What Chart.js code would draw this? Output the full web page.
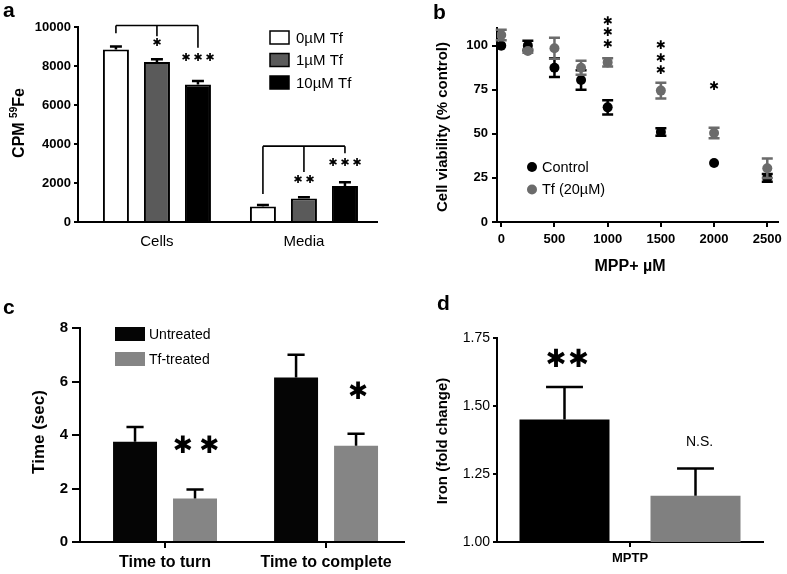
<!DOCTYPE html>
<html><head><meta charset="utf-8">
<script src="https://cdn.jsdelivr.net/npm/chart.js@4.4.1/dist/chart.umd.min.js"></script>
<style>
html,body{margin:0;padding:0;background:#fff}
#fig{position:relative;width:787px;height:574px;background:#fff;overflow:hidden}
canvas{position:absolute}
.pl{position:absolute;font:bold 21px 'Liberation Sans',Arial,sans-serif;line-height:21px;color:#000}
</style></head><body>
<div id="fig">
<canvas id="ca" width="393" height="290" style="left:0;top:0;width:393px;height:290px"></canvas>
<canvas id="cb" width="394" height="290" style="left:393px;top:0;width:394px;height:290px"></canvas>
<canvas id="cc" width="410" height="284" style="left:0;top:290px;width:410px;height:284px"></canvas>
<canvas id="cd" width="387" height="284" style="left:400px;top:290px;width:387px;height:284px"></canvas>
<div class="pl" style="left:3px;top:-1px">a</div>
<div class="pl" style="left:433px;top:1px">b</div>
<div class="pl" style="left:3px;top:296px">c</div>
<div class="pl" style="left:437px;top:292px">d</div>
</div>
<script>
// ---------- Panel a data ----------
const aCategories = ['Cells', 'Media'];
const aSeriesLabels = ['0µM Tf', '1µM Tf', '10µM Tf'];
const aTf0 = [8850, 800];
const aTf0Err = [150, 70];
const aTf1 = [8200, 1200];
const aTf1Err = [150, 70];
const aTf10 = [7050, 1850];
const aTf10Err = [180, 190];
const aYTicks = [0, 2000, 4000, 6000, 8000, 10000];

// ---------- Panel b data ----------
const bDoses = [0, 250, 500, 750, 1000, 1500, 2000, 2500];
const bControl = [100, 100, 87.5, 80.5, 65, 51, 33.5, 25];
const bControlErr = [0, 2.8, 5.3, 5.5, 4, 2.1, 0, 2.2];
const bTf = [106, 97, 98.5, 87.5, 90.5, 74.5, 50.5, 30.5];
const bTfErr = [3, 1, 6, 4, 2.3, 4.5, 3, 5.5];
const bXTicks = [0, 500, 1000, 1500, 2000, 2500];
const bYTicks = [0, 25, 50, 75, 100];
const bSeriesLabels = ['Control', 'Tf (20µM)'];

// ---------- Panel c data ----------
const cCategories = ['Time to turn', 'Time to complete'];
const cSeriesLabels = ['Untreated', 'Tf-treated'];
const cUntreated = [3.75, 6.15];
const cUntreatedErr = [0.55, 0.85];
const cTfTreated = [1.63, 3.6];
const cTfTreatedErr = [0.33, 0.45];
const cYTicks = [0, 2, 4, 6, 8];

// ---------- Panel d data ----------
const dCategories = ['MPTP'];
const dUntreated = [1.45];
const dUntreatedErr = [0.12];
const dTfTreated = [1.17];
const dTfTreatedErr = [0.10];
const dYTicks = [1.00, 1.25, 1.50, 1.75];
const dYTickLabels = ['1.00', '1.25', '1.50', '1.75'];

// ---------- common ----------
const FONT = "'Liberation Sans', Arial, Helvetica, sans-serif";
const STARFONT = "'DejaVu Sans', sans-serif";
Chart.defaults.font.family = FONT;
Chart.defaults.color = '#000';
Chart.defaults.animation = false;
Chart.defaults.responsive = false;
Chart.defaults.plugins.legend.display = false;
Chart.defaults.plugins.tooltip.enabled = false;

const toXY = arr => arr.map((y, i) => ({ x: i, y }));

const errorBars = {
  id: 'errorBars',
  afterDatasetDraw(chart, args) {
    const ds = chart.data.datasets[args.index];
    if (!ds.errors) return;
    const meta = args.meta;
    const ys = chart.scales[meta.yAxisID];
    const ctx = chart.ctx;
    ctx.save();
    ctx.strokeStyle = ds.errColor || '#000';
    ctx.lineWidth = ds.errWidth || 2;
    ctx.lineCap = 'butt';
    meta.data.forEach((el, i) => {
      const e = ds.errors[i];
      if (!e) return;
      const raw = ds.data[i];
      const v = typeof raw === 'object' ? raw.y : raw;
      const yHi = ys.getPixelForValue(v + e);
      const yLo = ds.errBoth ? ys.getPixelForValue(v - e) : el.y;
      const cw = ds.capPx || el.width * ds.capRatio;
      ctx.beginPath();
      ctx.moveTo(el.x, yLo); ctx.lineTo(el.x, yHi);
      ctx.moveTo(el.x - cw / 2, yHi); ctx.lineTo(el.x + cw / 2, yHi);
      if (ds.errBoth) { ctx.moveTo(el.x - cw / 2, yLo); ctx.lineTo(el.x + cw / 2, yLo); }
      ctx.stroke();
    });
    ctx.restore();
  }
};

function stars(ctx, n, cx, cy, spacing, font, ch, vertical) {
  ctx.save();
  ctx.fillStyle = '#000';
  ctx.font = font;
  ctx.textAlign = 'center';
  ctx.textBaseline = 'middle';
  for (let i = 0; i < n; i++) {
    const off = (i - (n - 1) / 2) * spacing;
    if (vertical) ctx.fillText(ch, cx, cy + off); else ctx.fillText(ch, cx + off, cy);
  }
  ctx.restore();
}
function bracket(ctx, yLevel, drops) {
  ctx.beginPath();
  ctx.moveTo(drops[0][0], yLevel); ctx.lineTo(drops[drops.length - 1][0], yLevel);
  drops.forEach(([x, y]) => { ctx.moveTo(x, yLevel); ctx.lineTo(x, y); });
  ctx.stroke();
}
function text(ctx, s, x, y, font, rot, align) {
  ctx.save();
  ctx.fillStyle = '#000';
  ctx.font = font;
  ctx.textAlign = align || 'center';
  ctx.textBaseline = 'middle';
  ctx.translate(x, y);
  if (rot) ctx.rotate(rot);
  ctx.fillText(s, 0, 0);
  ctx.restore();
}
function yAxis(min, max, ticks, width, font, tickLen, pad, labels) {
  return {
    type: 'linear', min, max,
    afterBuildTicks: s => { s.ticks = ticks.map(v => ({ value: v })); },
    afterFit: s => { s.width = width; },
    grid: { display: true, drawOnChartArea: false, drawTicks: true, tickLength: tickLen, color: '#000', lineWidth: 2 },
    border: { display: true, color: '#000', width: 2 },
    ticks: { font, color: '#000', padding: pad, callback: labels ? (v, i) => labels[i] : v => String(v) }
  };
}
// linear index axis placing categories at 0,1,... so group positions can be tuned by min/max
function xGroups(cats, min, max, height, font, tickLen, pad) {
  return {
    type: 'linear', min, max, offset: false,
    afterBuildTicks: s => { s.ticks = cats.map((c, i) => ({ value: i })); },
    afterFit: s => { s.height = height; },
    grid: { display: true, drawOnChartArea: false, drawTicks: tickLen > 0, tickLength: tickLen, color: '#000', lineWidth: 2, offset: false },
    border: { display: true, color: '#000', width: 2 },
    ticks: { font, color: '#000', padding: pad, maxRotation: 0, autoSkip: false, callback: (v, i) => cats[i] }
  };
}
function xCat(height, font, tickLen, pad) {
  return {
    type: 'category', offset: true,
    afterFit: s => { s.height = height; },
    grid: { display: true, drawOnChartArea: false, drawTicks: tickLen > 0, tickLength: tickLen, color: '#000', lineWidth: 2, offset: false },
    border: { display: true, color: '#000', width: 2 },
    ticks: { font, color: '#000', padding: pad, maxRotation: 0, autoSkip: false }
  };
}

// ---------- Panel a ----------
new Chart(document.getElementById('ca'), {
  type: 'bar',
  data: {
    datasets: [
      { label: aSeriesLabels[0], data: toXY(aTf0), errors: aTf0Err, backgroundColor: '#ffffff', borderColor: '#000', borderWidth: 2, capRatio: 0.46, errWidth: 2.5 },
      { label: aSeriesLabels[1], data: toXY(aTf1), errors: aTf1Err, backgroundColor: '#5a5a5a', borderColor: '#000', borderWidth: 2, capRatio: 0.46, errWidth: 2.5 },
      { label: aSeriesLabels[2], data: toXY(aTf10), errors: aTf10Err, backgroundColor: '#000000', borderColor: '#000', borderWidth: 2, capRatio: 0.46, errWidth: 2.5 }
    ]
  },
  options: {
    devicePixelRatio: 1,
    layout: { padding: { left: 0, top: 27, right: 16, bottom: 0 } },
    datasets: { bar: { barPercentage: 0.634, categoryPercentage: 0.837 } },
    scales: {
      x: xGroups(aCategories, -0.537, 1.497, 68, { size: 15 }, 0, 11),
      y: yAxis(0, 10000, aYTicks, 78, { size: 13, weight: 'bold' }, 4, 3)
    }
  },
  plugins: [errorBars, {
    id: 'annotA',
    afterDraw(chart) {
      const ctx = chart.ctx;
      const Y = v => chart.scales.y.getPixelForValue(v);
      const bx = (d, i) => chart.getDatasetMeta(d).data[i].x;
      ctx.save();
      ctx.strokeStyle = '#000'; ctx.lineWidth = 1.6;
      bracket(ctx, Y(10080), [[bx(0, 0), Y(9680)], [bx(1, 0), Y(9520)], [bx(2, 0), Y(8930)]]);
      bracket(ctx, Y(3890), [[bx(0, 1), Y(1430)], [bx(1, 1), Y(2570)], [bx(2, 1), Y(3530)]]);
      ctx.restore();
      const sf = '11px ' + STARFONT;
      stars(ctx, 1, bx(1, 0), Y(9150), 12, sf, '✱');
      stars(ctx, 3, bx(2, 0), Y(8380), 12, sf, '✱');
      stars(ctx, 2, bx(1, 1), Y(2150), 12, sf, '✱');
      stars(ctx, 3, bx(2, 1), Y(3020), 12, sf, '✱');
      // legend
      const rows = [37.5, 60, 82.5];
      chart.data.datasets.forEach((ds, i) => {
        ctx.save();
        ctx.fillStyle = ds.backgroundColor;
        ctx.fillRect(270, rows[i] - 6.5, 19, 13);
        ctx.strokeStyle = '#000'; ctx.lineWidth = 1.5;
        ctx.strokeRect(270, rows[i] - 6.5, 19, 13);
        ctx.restore();
        text(ctx, ds.label, 296, rows[i] + 1, '15px ' + FONT, 0, 'left');
      });
      // y title with superscript
      ctx.save();
      ctx.translate(18, 123);
      ctx.rotate(-Math.PI / 2);
      ctx.fillStyle = '#000';
      ctx.textBaseline = 'alphabetic';
      const f1 = 'bold 16px ' + FONT, f2 = 'bold 10px ' + FONT;
      ctx.font = f1; const w1 = ctx.measureText('CPM ').width, w3 = ctx.measureText('Fe').width;
      ctx.font = f2; const w2 = ctx.measureText('59').width;
      let x0 = -(w1 + w2 + w3) / 2;
      ctx.font = f1; ctx.fillText('CPM ', x0, 6);
      ctx.font = f2; ctx.fillText('59', x0 + w1, -1);
      ctx.font = f1; ctx.fillText('Fe', x0 + w1 + w2, 6);
      ctx.restore();
    }
  }]
});

// ---------- Panel b ----------
new Chart(document.getElementById('cb'), {
  type: 'scatter',
  data: {
    datasets: [
      { label: bSeriesLabels[1], data: bDoses.map((x, i) => ({ x, y: bTf[i] })), errors: bTfErr, errBoth: true, capPx: 11, errWidth: 2.5, errColor: '#6b6b6b', backgroundColor: '#6b6b6b', borderColor: '#6b6b6b', pointRadius: 5, pointBorderWidth: 0 },
      { label: bSeriesLabels[0], data: bDoses.map((x, i) => ({ x, y: bControl[i] })), errors: bControlErr, errBoth: true, capPx: 11, errWidth: 2.5, errColor: '#000', backgroundColor: '#000', borderColor: '#000', pointRadius: 5, pointBorderWidth: 0 }
    ]
  },
  options: {
    devicePixelRatio: 1,
    layout: { padding: { left: 0, top: 28, right: 7, bottom: 0 } },
    scales: {
      x: {
        type: 'linear', min: -40, max: 2600,
        afterBuildTicks: s => { s.ticks = bXTicks.map(v => ({ value: v })); },
        afterFit: s => { s.height = 68; },
        grid: { display: true, drawOnChartArea: false, drawTicks: true, tickLength: 5, color: '#000', lineWidth: 2 },
        border: { display: true, color: '#000', width: 2 },
        ticks: { font: { size: 13, weight: 'bold' }, color: '#000', padding: 5, maxRotation: 0, callback: v => String(v) }
      },
      y: yAxis(0, 110, bYTicks, 104, { size: 13, weight: 'bold' }, 5, 4)
    }
  },
  plugins: [errorBars, {
    id: 'annotB',
    afterDraw(chart) {
      const ctx = chart.ctx;
      const X = v => chart.scales.x.getPixelForValue(v);
      const Y = v => chart.scales.y.getPixelForValue(v);
      const sf = '12px ' + STARFONT;
      stars(ctx, 3, X(1000), Y(107), 11.5, sf, '✱', true);
      stars(ctx, 3, X(1500), Y(92.7), 12.5, sf, '✱', true);
      stars(ctx, 1, X(2000), Y(76.5), 12, sf, '✱', true);
      // legend
      const ds = chart.data.datasets;
      const items = [[ds[1], 167], [ds[0], 189.5]];
      items.forEach(([d, y]) => {
        ctx.save();
        ctx.fillStyle = d.backgroundColor;
        ctx.beginPath(); ctx.arc(139, y, 5, 0, Math.PI * 2); ctx.fill();
        ctx.restore();
        text(ctx, d.label, 149, y + 0.5, '14.5px ' + FONT, 0, 'left');
      });
      text(ctx, 'Cell viability (% control)', 50, 127, 'bold 15px ' + FONT, -Math.PI / 2);
      text(ctx, 'MPP+ µM', 237, 267, 'bold 16px ' + FONT);
    }
  }]
});

// ---------- Panel c ----------
new Chart(document.getElementById('cc'), {
  type: 'bar',
  data: {
    datasets: [
      { label: cSeriesLabels[0], data: toXY(cUntreated), errors: cUntreatedErr, backgroundColor: '#050505', capRatio: 0.39, errWidth: 2.5 },
      { label: cSeriesLabels[1], data: toXY(cTfTreated), errors: cTfTreatedErr, backgroundColor: '#858585', capRatio: 0.39, errWidth: 2.5 }
    ]
  },
  options: {
    devicePixelRatio: 1,
    layout: { padding: { left: 0, top: 38, right: 6, bottom: 0 } },
    datasets: { bar: { barPercentage: 0.733, categoryPercentage: 0.745 } },
    scales: {
      x: xGroups(cCategories, -0.528, 1.484, 32, { size: 16, weight: 'bold' }, 6, 5),
      y: yAxis(0, 8, cYTicks, 80, { size: 15, weight: 'bold' }, 8, 4)
    }
  },
  plugins: [errorBars, {
    id: 'annotC',
    afterDraw(chart) {
      const ctx = chart.ctx;
      const Y = v => chart.scales.y.getPixelForValue(v);
      const bx = (d, i) => chart.getDatasetMeta(d).data[i].x;
      const sf = '24px ' + STARFONT;
      stars(ctx, 2, bx(1, 0) + 1, Y(3.55), 26.5, sf, '✱');
      stars(ctx, 1, bx(1, 1) + 2, Y(5.58), 26.5, sf, '✱');
      const rows = [44, 69];
      chart.data.datasets.forEach((ds, i) => {
        ctx.save();
        ctx.fillStyle = ds.backgroundColor;
        ctx.fillRect(115, rows[i] - 7, 30, 14);
        ctx.restore();
        text(ctx, ds.label, 149, rows[i] + 1, '14px ' + FONT, 0, 'left');
      });
      text(ctx, 'Time (sec)', 39, 142, 'bold 17px ' + FONT, -Math.PI / 2);
    }
  }]
});

// ---------- Panel d ----------
new Chart(document.getElementById('cd'), {
  type: 'bar',
  data: {
    labels: dCategories,
    datasets: [
      { label: 'Untreated', data: dUntreated, errors: dUntreatedErr, backgroundColor: '#000000', capRatio: 0.41, errWidth: 2.5 },
      { label: 'Tf-treated', data: dTfTreated, errors: dTfTreatedErr, backgroundColor: '#808080', capRatio: 0.41, errWidth: 2.5 }
    ]
  },
  options: {
    devicePixelRatio: 1,
    layout: { padding: { left: 0, top: 48, right: 24, bottom: 0 } },
    datasets: { bar: { barPercentage: 0.687, categoryPercentage: 0.985 } },
    scales: {
      x: xCat(32, { size: 13, weight: 'bold' }, 5, 4),
      y: yAxis(1, 1.75, dYTicks, 97, { size: 14 }, 4, 3, dYTickLabels)
    }
  },
  plugins: [errorBars, {
    id: 'annotD',
    afterDraw(chart) {
      const ctx = chart.ctx;
      const Y = v => chart.scales.y.getPixelForValue(v);
      const bx = (d, i) => chart.getDatasetMeta(d).data[i].x;
      stars(ctx, 2, bx(0, 0) + 3, Y(1.668), 22.4, '25px ' + STARFONT, '✱');
      text(ctx, 'N.S.', bx(1, 0) + 4, Y(1.368), '14px ' + FONT);
      text(ctx, 'Iron (fold change)', 43, 151, 'bold 15px ' + FONT, -Math.PI / 2);
    }
  }]
});
</script>
</body></html>
